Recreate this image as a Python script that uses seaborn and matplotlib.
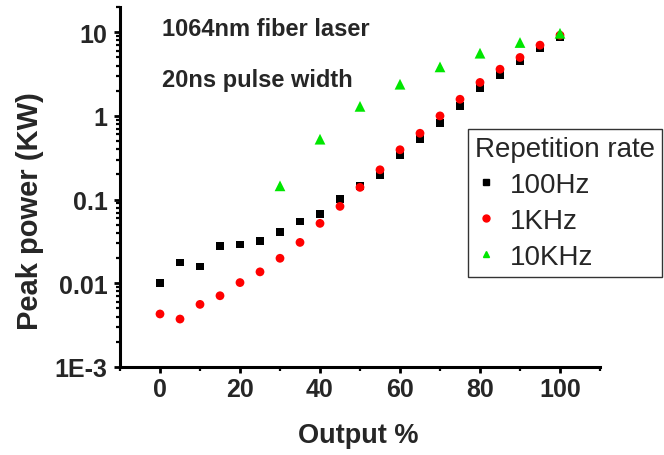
import matplotlib
matplotlib.use("Agg")
import matplotlib.pyplot as plt
from matplotlib.lines import Line2D
from matplotlib.ticker import FixedLocator, FixedFormatter, LogLocator, NullFormatter, MultipleLocator
import numpy as np
import pandas as pd
import seaborn as sns

# Output setting (%) and measured peak power (kW) per repetition rate
output_pct = [0, 5, 10, 15, 20, 25, 30, 35, 40, 45, 50,
              55, 60, 65, 70, 75, 80, 85, 90, 95, 100]
peak_100hz = [0.0100, 0.0178, 0.0159, 0.0281, 0.0292, 0.0322, 0.0413, 0.0548, 0.0672, 0.101, 0.146,
              0.196, 0.34, 0.527, 0.82, 1.32, 2.16, 3.07, 4.47, 6.44, 8.7]
peak_1khz = [0.0043, 0.00374, 0.0056, 0.0071, 0.0102, 0.0137, 0.0199, 0.0308, 0.052, 0.083, 0.14,
             0.227, 0.394, 0.62, 1.0, 1.58, 2.51, 3.61, 4.99, 7.0, 9.2]
output_10khz = [30, 40, 50, 60, 70, 80, 90, 100]
peak_10khz = [0.146, 0.527, 1.30, 2.39, 3.85, 5.61, 7.53, 9.7]

rate_labels = ["100Hz", "1KHz", "10KHz"]
rate_colors = {"100Hz": "#000000", "1KHz": "#ff0000", "10KHz": "#00e600"}
rate_markers = {"100Hz": "s", "1KHz": "o", "10KHz": "^"}
rate_sizes = {"100Hz": 30, "1KHz": 40, "10KHz": 60}

y_ticks = [1e-3, 1e-2, 1e-1, 1, 10]
y_tick_labels = ["1E-3", "0.01", "0.1", "1", "10"]

df = pd.concat([
    pd.DataFrame({"Output": output_pct, "Peak": peak_100hz, "Rate": "100Hz"}),
    pd.DataFrame({"Output": output_pct, "Peak": peak_1khz, "Rate": "1KHz"}),
    pd.DataFrame({"Output": output_10khz, "Peak": peak_10khz, "Rate": "10KHz"}),
], ignore_index=True)

sns.set_theme(style="ticks")
plt.rcParams["font.family"] = ["Liberation Sans", "DejaVu Sans"]

fig = plt.figure(figsize=(6.64, 4.56), dpi=100)
ax = fig.add_axes([120 / 664, 88 / 456, 480 / 664, 360 / 456])

sns.scatterplot(data=df, x="Output", y="Peak", hue="Rate", style="Rate", size="Rate",
                hue_order=rate_labels, palette=rate_colors, markers=rate_markers,
                sizes=rate_sizes, linewidth=0, legend=False, ax=ax, zorder=3)

ax.set_yscale("log")
ax.set_xlim(-10, 110)
ax.set_ylim(1e-3, 20)

ax.yaxis.set_major_locator(FixedLocator(y_ticks))
ax.yaxis.set_major_formatter(FixedFormatter(y_tick_labels))
ax.yaxis.set_minor_locator(LogLocator(base=10, subs=np.arange(2, 10)))
ax.yaxis.set_minor_formatter(NullFormatter())
ax.xaxis.set_major_locator(MultipleLocator(20))
ax.xaxis.set_minor_locator(MultipleLocator(10))

for side in ("top", "right"):
    ax.spines[side].set_visible(False)
for side in ("left", "bottom"):
    ax.spines[side].set_linewidth(2.2)
    ax.spines[side].set_color("black")

ax.tick_params(axis="both", which="major", direction="out", length=4, width=2,
               color="black", labelsize=18, pad=3)
ax.tick_params(axis="y", which="major", pad=5)
ax.tick_params(axis="both", which="minor", direction="out", length=3, width=1.6,
               color="black")
for lab in ax.get_xticklabels() + ax.get_yticklabels():
    lab.set_fontweight("bold")

ax.set_xlabel("Output %", fontsize=19.5, fontweight="bold", va="center")
ax.set_ylabel("Peak power (KW)", fontsize=21, fontweight="bold", va="center")
ax.xaxis.set_label_coords(0.496, -0.19)
ax.yaxis.set_label_coords(-0.1875, 0.436)

ax.text(0.0875, 0.939, "1064nm fiber laser", transform=ax.transAxes,
        fontsize=17, fontweight="bold", ha="left", va="center")
ax.text(0.0875, 0.80, "20ns pulse width", transform=ax.transAxes,
        fontsize=17, fontweight="bold", ha="left", va="center")

handles = [Line2D([], [], linestyle="none", marker=rate_markers[r], color=rate_colors[r],
                  markersize=5) for r in rate_labels]
leg = fig.legend(handles, rate_labels, title="Repetition rate", loc="upper left",
                 bbox_to_anchor=(468 / 664, 1 - 130 / 456), bbox_transform=fig.transFigure,
                 fontsize=20, title_fontsize=20, frameon=True, fancybox=False,
                 edgecolor="black", handlelength=0.8, handletextpad=0.45,
                 labelspacing=0.36, borderpad=0.25, borderaxespad=0)
leg.get_frame().set_linewidth(1.0)
leg._legend_box.align = "left"

fig.savefig("out.png", dpi=100)
